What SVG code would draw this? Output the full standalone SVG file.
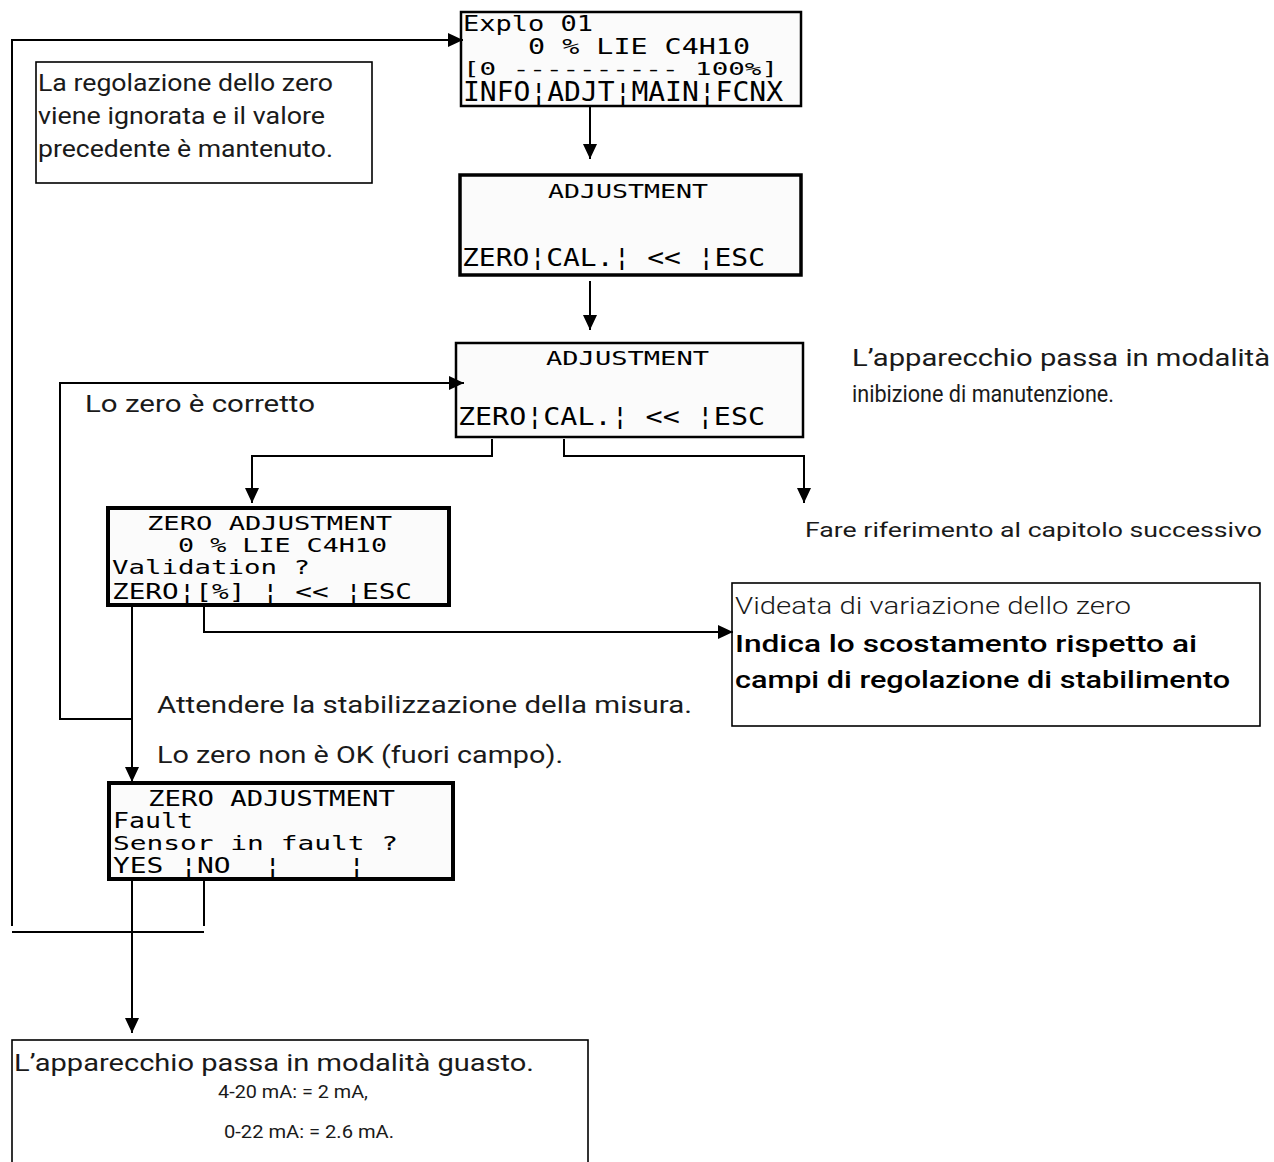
<svg xmlns="http://www.w3.org/2000/svg" width="1274" height="1162" viewBox="0 0 1274 1162">
<style>
.bg{fill:#ffffff}
.lcd{fill:#fbfbfb;stroke:#000}
.box{fill:#ffffff;stroke:#000;stroke-width:1.6}
.mono{font-family:"DejaVu Sans Mono","Liberation Mono",monospace;fill:#000;white-space:pre}
.t{font-family:Roboto,"Noto Sans","Liberation Sans",sans-serif;fill:#1a1a1a}
.b{font-family:Roboto,"Noto Sans","Liberation Sans",sans-serif;fill:#000;font-weight:500}
.c{fill:none;stroke:#000;stroke-width:2}
</style>
<defs>
<marker id="arr" markerUnits="userSpaceOnUse" markerWidth="16" markerHeight="14" refX="15" refY="7" orient="auto">
<path d="M0,0 L15,7 L0,14 z" fill="#000"/>
</marker>
</defs>
<rect class="bg" x="0" y="0" width="1274" height="1162"/>

<g id="note-ignored">
<rect class="box" x="36" y="62" width="336" height="121"/>
<text class="t" font-size="23" x="38" y="91" textLength="295" lengthAdjust="spacingAndGlyphs">La regolazione dello zero</text>
<text class="t" font-size="23" x="38" y="124" textLength="287" lengthAdjust="spacingAndGlyphs">viene ignorata e il valore</text>
<text class="t" font-size="23" x="38" y="157" textLength="295" lengthAdjust="spacingAndGlyphs">precedente è mantenuto.</text>
</g>

<g id="lcd-main">
<rect class="lcd" stroke-width="2.5" x="461" y="12" width="340" height="94"/>
<text class="mono" font-size="22" x="463" y="31" textLength="130" lengthAdjust="spacingAndGlyphs">Explo 01</text>
<text class="mono" font-size="22" x="528" y="54" textLength="222" lengthAdjust="spacingAndGlyphs">0 % LIE C4H10</text>
<text class="mono" font-size="18" x="463" y="75" textLength="315" lengthAdjust="spacingAndGlyphs">[0 ---------- 100%]</text>
<text class="mono" font-size="26" x="463" y="101" textLength="320" lengthAdjust="spacingAndGlyphs">INFO¦ADJT¦MAIN¦FCNX</text>
</g>

<g id="lcd-adjust-1">
<rect class="lcd" stroke-width="3.5" x="460" y="175" width="341" height="100"/>
<text class="mono" font-size="20" x="548" y="198" textLength="160" lengthAdjust="spacingAndGlyphs">ADJUSTMENT</text>
<text class="mono" font-size="24" x="462" y="266" textLength="303" lengthAdjust="spacingAndGlyphs">ZERO¦CAL.¦ &lt;&lt; ¦ESC</text>
</g>

<g id="lcd-adjust-2">
<rect class="lcd" stroke-width="2.5" x="456" y="343" width="347" height="94"/>
<text class="mono" font-size="20" x="546" y="365" textLength="163" lengthAdjust="spacingAndGlyphs">ADJUSTMENT</text>
<text class="mono" font-size="24" x="458" y="425" textLength="307" lengthAdjust="spacingAndGlyphs">ZERO¦CAL.¦ &lt;&lt; ¦ESC</text>
</g>

<g id="note-maintenance">
<text class="t" font-size="23" x="852" y="366" textLength="418" lengthAdjust="spacingAndGlyphs">L’apparecchio passa in modalità</text>
<text class="t" font-size="23" x="852" y="402" textLength="262" lengthAdjust="spacingAndGlyphs">inibizione di manutenzione.</text>
</g>

<g id="label-correct">
<text class="t" font-size="23" x="85" y="412" textLength="230" lengthAdjust="spacingAndGlyphs">Lo zero è corretto</text>
</g>

<g id="note-next-chapter">
<text class="t" font-size="20" x="805" y="537" textLength="457" lengthAdjust="spacingAndGlyphs">Fare riferimento al capitolo successivo</text>
</g>

<g id="lcd-zero-validation">
<rect class="lcd" stroke-width="4" x="108" y="508" width="341" height="97"/>
<text class="mono" font-size="20" x="147" y="530" textLength="245" lengthAdjust="spacingAndGlyphs">ZERO ADJUSTMENT</text>
<text class="mono" font-size="19" x="178" y="552" textLength="209" lengthAdjust="spacingAndGlyphs">0 % LIE C4H10</text>
<text class="mono" font-size="20" x="112" y="574" textLength="198" lengthAdjust="spacingAndGlyphs">Validation ?</text>
<text class="mono" font-size="22" x="112" y="599" textLength="300" lengthAdjust="spacingAndGlyphs">ZERO¦[%] ¦ &lt;&lt; ¦ESC</text>
</g>

<g id="note-zero-variation">
<rect class="box" x="732" y="583" width="528" height="143"/>
<text class="t" font-size="23" font-weight="300" x="735" y="614" textLength="396" lengthAdjust="spacingAndGlyphs">Videata di variazione dello zero</text>
<text class="b" font-size="24" x="735" y="652" textLength="462" lengthAdjust="spacingAndGlyphs">Indica lo scostamento rispetto ai</text>
<text class="b" font-size="24" x="735" y="688" textLength="495" lengthAdjust="spacingAndGlyphs">campi di regolazione di stabilimento</text>
</g>

<g id="labels-wait">
<text class="t" font-size="23" x="157" y="713" textLength="535" lengthAdjust="spacingAndGlyphs">Attendere la stabilizzazione della misura.</text>
<text class="t" font-size="23" x="157" y="763" textLength="406" lengthAdjust="spacingAndGlyphs">Lo zero non è OK (fuori campo).</text>
</g>

<g id="lcd-zero-fault">
<rect class="lcd" stroke-width="4" x="109" y="783" width="344" height="96"/>
<text class="mono" font-size="22" x="148" y="806" textLength="247" lengthAdjust="spacingAndGlyphs">ZERO ADJUSTMENT</text>
<text class="mono" font-size="21" x="113" y="828" textLength="80" lengthAdjust="spacingAndGlyphs">Fault</text>
<text class="mono" font-size="19" x="113" y="850" textLength="285" lengthAdjust="spacingAndGlyphs">Sensor in fault ?</text>
<text class="mono" font-size="22" x="113" y="873" textLength="252" lengthAdjust="spacingAndGlyphs" xml:space="preserve">YES ¦NO  ¦    ¦</text>
</g>

<g id="note-fault-mode">
<rect class="box" x="12" y="1040" width="576" height="140"/>
<text class="t" font-size="24" x="14" y="1071" textLength="520" lengthAdjust="spacingAndGlyphs">L’apparecchio passa in modalità guasto.</text>
<text class="t" font-size="18" x="218" y="1098" textLength="150" lengthAdjust="spacingAndGlyphs">4-20 mA: = 2 mA,</text>
<text class="t" font-size="18" x="224" y="1138" textLength="170" lengthAdjust="spacingAndGlyphs">0-22 mA: = 2.6 mA.</text>
</g>

<g id="connectors">
<path class="c" d="M590 107 V159" marker-end="url(#arr)"/>
<path class="c" d="M590 281 V330" marker-end="url(#arr)"/>
<path class="c" d="M492 439 V456 H252 V503" marker-end="url(#arr)"/>
<path class="c" d="M564 439 V456 H804 V503" marker-end="url(#arr)"/>
<path class="c" d="M204 607 V632 H733" marker-end="url(#arr)"/>
<path class="c" d="M132 607 V782" marker-end="url(#arr)"/>
<path class="c" d="M132 719 H60 V383 H464" marker-end="url(#arr)"/>
<path class="c" d="M12 926 V40 H463" marker-end="url(#arr)"/>
<path class="c" d="M204 881 V926"/>
<path class="c" d="M12 932 H204"/>
<path class="c" d="M132 881 V1033" marker-end="url(#arr)"/>
</g>
</svg>
